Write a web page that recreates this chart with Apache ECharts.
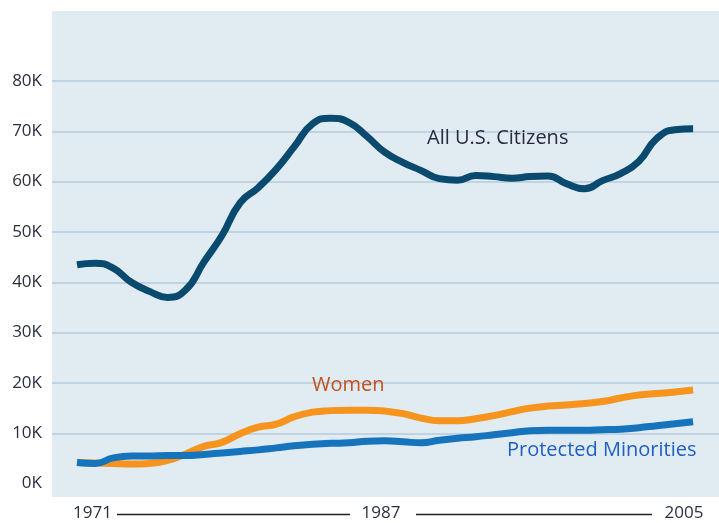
<html>
<head>
    <meta charset="utf-8">
    <title>Median income</title>
    <script src="https://cdn.jsdelivr.net/npm/echarts@6/dist/echarts.min.js"></script>
</head>
<body style="margin:0">
<div id="main" style="width: 719px;height:523px;"></div>
<script type="text/javascript">
    // years 1971..2005, values in thousands of dollars
    var years = [];
    for (var y = 1971; y <= 2005; y++) years.push(y);
    var citizens = [43.5, 43.8, 42.8, 40.0, 38.2, 37.0, 38.5, 44.0, 49.3, 55.8, 58.8, 62.5, 67.0, 71.5, 72.6, 71.8, 69.0, 65.8, 63.8, 62.2, 60.6, 60.3, 61.2, 61.0, 60.7, 61.0, 61.1, 59.6, 58.6, 60.2, 61.6, 64.0, 68.6, 70.3, 70.5];
    var women = [4.2, 4.1, 4.0, 3.9, 4.0, 4.6, 5.9, 7.4, 8.2, 9.9, 11.2, 11.8, 13.3, 14.2, 14.5, 14.6, 14.6, 14.4, 13.9, 13.0, 12.5, 12.5, 12.9, 13.5, 14.3, 15.0, 15.4, 15.6, 15.9, 16.3, 17.0, 17.6, 17.9, 18.2, 18.6];
    var minorities = [4.2, 4.0, 5.1, 5.5, 5.5, 5.6, 5.6, 5.8, 6.1, 6.4, 6.7, 7.1, 7.5, 7.8, 8.0, 8.1, 8.4, 8.5, 8.3, 8.1, 8.6, 9.0, 9.3, 9.7, 10.1, 10.5, 10.6, 10.6, 10.6, 10.7, 10.8, 11.1, 11.5, 11.9, 12.3];
    var yearLabels = ['1971', '1987', '2005'];

    function pairs(arr) {
        return arr.map(function (v, i) { return [years[i], v * 1000]; });
    }

    var font = 'Open Sans';
    var grid = '#bfd3e3';
    var myChart = echarts.init(document.getElementById('main'));

    function label(text, x, y, color, size, align) {
        return {
            type: 'text', x: x, y: y, z: 100,
            style: {
                text: text, fill: color, font: size + 'px "Open Sans"',
                textAlign: align || 'left', textVerticalAlign: 'middle'
            }
        };
    }

    myChart.setOption({
        animation: false,
        backgroundColor: '#fff',
        grid: { left: 52, right: 0, top: 81, bottom: 39.4 },
        xAxis: {
            type: 'value',
            min: 1969.62,
            max: 2006.43,
            show: false
        },
        yAxis: {
            type: 'value',
            min: 0,
            max: 80000,
            interval: 10000,
            axisLine: { show: false },
            axisTick: { show: false },
            axisLabel: {
                margin: 10,
                color: '#2b3040',
                fontFamily: font,
                fontSize: 17,
                formatter: function (v) { return (v / 1000) + 'K'; }
            },
            splitLine: {
                lineStyle: {
                    color: ['rgba(0,0,0,0)', grid, grid, grid, grid, grid, grid, grid, grid],
                    width: 2
                }
            }
        },
        graphic: [
            { type: 'rect', z: -10, shape: { x: 52, y: 11, width: 667, height: 486 }, style: { fill: '#e1ebf2' } },
            label('All U.S. Citizens', 427, 138, '#262b40', 20),
            label('Women', 312, 385, '#c4501c', 20),
            label('Protected Minorities', 507, 450, '#1e5fc0', 20),
            label(yearLabels[0], 92.5, 513, '#2b3040', 17, 'center'),
            label(yearLabels[1], 381, 513, '#2b3040', 17, 'center'),
            label(yearLabels[2], 684, 513, '#2b3040', 17, 'center'),
            { type: 'line', shape: { x1: 117, y1: 514.5, x2: 350, y2: 514.5 }, style: { stroke: '#222', lineWidth: 1.5 } },
            { type: 'line', shape: { x1: 416, y1: 514.5, x2: 652, y2: 514.5 }, style: { stroke: '#222', lineWidth: 1.5 } }
        ],
        series: [
            {
                name: 'All U.S. Citizens', type: 'line', smooth: 0.5, symbol: 'none',
                lineStyle: { color: '#0a4a6e', width: 7 },
                data: pairs(citizens)
            },
            {
                name: 'Women', type: 'line', smooth: 0.5, symbol: 'none',
                lineStyle: { color: '#f7941e', width: 7 },
                data: pairs(women)
            },
            {
                name: 'Protected Minorities', type: 'line', smooth: 0.5, symbol: 'none',
                lineStyle: { color: '#1674bd', width: 7 },
                data: pairs(minorities)
            }
        ]
    });
</script>
</body>
</html>
